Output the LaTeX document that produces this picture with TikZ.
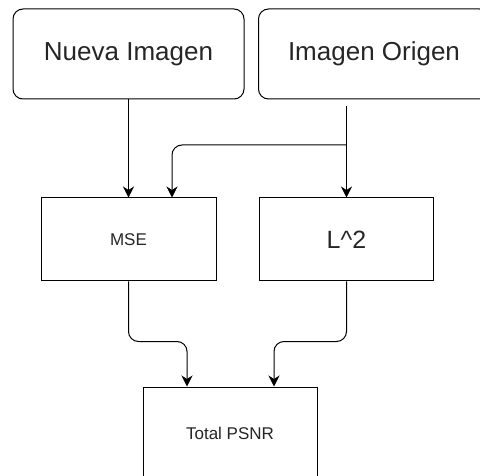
\documentclass[tikz,border=0pt]{standalone}
\usepackage{fontspec}
\setmainfont{Liberation Sans}
\usetikzlibrary{arrows.meta}
\begin{document}
\begin{tikzpicture}[x=1pt,y=-1pt,
  box/.style={draw=black, line width=1pt, inner sep=0pt, align=center, text=black!85},
  rbox/.style={box, rounded corners=10pt, minimum width=231pt, minimum height=90pt, font=\fontsize{26}{30}\selectfont},
  arr/.style={draw=black, line width=1pt, -{Stealth[length=11pt,width=11pt,inset=3.5pt]}, rounded corners=10pt}
]
\path[use as bounding box, clip] (0,0) rectangle (480,476);
\fill[white] (0,0) rectangle (480,476);
\node[rbox] (nueva) at (128.5,54) {Nueva Imagen};
\node[rbox] (origen) at (374,54) {Imagen Origen};
\node[box, minimum width=175pt, minimum height=83pt, font=\fontsize{17}{20}\selectfont] (mse) at (128.5,239.5) {MSE};
\node[box, minimum width=174pt, minimum height=83pt, font=\fontsize{25}{30}\selectfont] (l2) at (346.5,239.5) {L\textasciicircum 2};
\node[box, minimum width=174pt, minimum height=92pt, font=\fontsize{17}{20}\selectfont] (psnr) at (230,433) {Total PSNR};
\coordinate (src) at (346.5,106);
\coordinate (split) at (346.5,145);
\draw[arr] (nueva.south) -- (mse.north);
\draw[arr] (src) -- (l2.north);
\draw[arr] (split) -| ([xshift=43.5pt]mse.north);
\draw[arr] (mse.south) -- ++(0,60) -| ([xshift=-43pt]psnr.north);
\draw[arr] (l2.south) -- ++(0,60) -| ([xshift=44pt]psnr.north);
\end{tikzpicture}
\end{document}
